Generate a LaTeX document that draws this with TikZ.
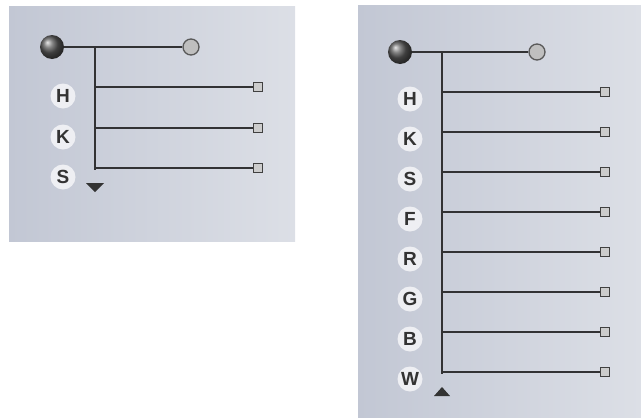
\documentclass[tikz,border=0pt]{standalone}
\usepackage{fontspec}
\setmainfont{Liberation Sans}
\definecolor{bgL}{RGB}{194,199,212}
\definecolor{bgR}{RGB}{220,223,230}
\definecolor{wirec}{RGB}{50,50,52}
\begin{document}
\begin{tikzpicture}[x=1pt,y=-1pt,
  wire/.style={line width=2.2pt, draw=wirec},
  ballnode/.style={circle, minimum size=24pt, inner sep=0pt, shading=ball, ball color=black!65},
  endcirc/.style={circle, minimum size=16pt, inner sep=0pt, fill=gray!50, draw=black!65, line width=1.3pt},
  endsq/.style={rectangle, minimum size=9.5pt, inner sep=0pt, fill=gray!40, draw=black!75, line width=1.3pt},
  lab/.style={circle, minimum size=25pt, inner sep=0pt, fill=white, fill opacity=0.7, text opacity=1, text=black!80, font=\fontsize{19}{19}\selectfont\bfseries},
  tri/.style={fill=black!80}]
\useasboundingbox (0,0) rectangle (641,418);
% backgrounds
\shade[left color=bgL, right color=bgR] (9,6) rectangle (295,241);
\shade[left color=bgL, right color=bgR] (358,5) rectangle (641,418);

% ---- left panel ----
\node[ballnode] (Lball) at (52,47) {};
\node[endcirc] (Lend) at (191,47) {};
\coordinate (Ltop) at (95,47);
\coordinate (Lbot) at (95,170);
\draw[wire] (Lball) -- (Lend);
\draw[wire] (Ltop) -- (Lbot);
\foreach \lbl/\y [count=\i] in {H/87,K/128,S/168}{
  \node[endsq] (Lsq\i) at (258,\y) {};
  \coordinate (Lj\i) at (95,\y);
  \draw[wire] (Lj\i) -- (Lsq\i);
  \node[lab] (Llab\i) at (63,\y+9) {\lbl};
}
\fill[tri] (86,183) -- (104,183) -- (95,192) -- cycle;

% ---- right panel ----
\node[ballnode] (Rball) at (400,52) {};
\node[endcirc] (Rend) at (537,52) {};
\coordinate (Rtop) at (442,52);
\coordinate (Rbot) at (442,374);
\draw[wire] (Rball) -- (Rend);
\draw[wire] (Rtop) -- (Rbot);
\foreach \lbl [count=\i] in {H,K,S,F,R,G,B,W}{
  \pgfmathsetmacro{\yy}{92+40*(\i-1)}
  \node[endsq] (Rsq\i) at (605,\yy) {};
  \coordinate (Rj\i) at (442,\yy);
  \draw[wire] (Rj\i) -- (Rsq\i);
  \node[lab] (Rlab\i) at (410,\yy+7) {\lbl};
}
\fill[tri] (434,396) -- (450,396) -- (442,387) -- cycle;
\end{tikzpicture}
\end{document}
